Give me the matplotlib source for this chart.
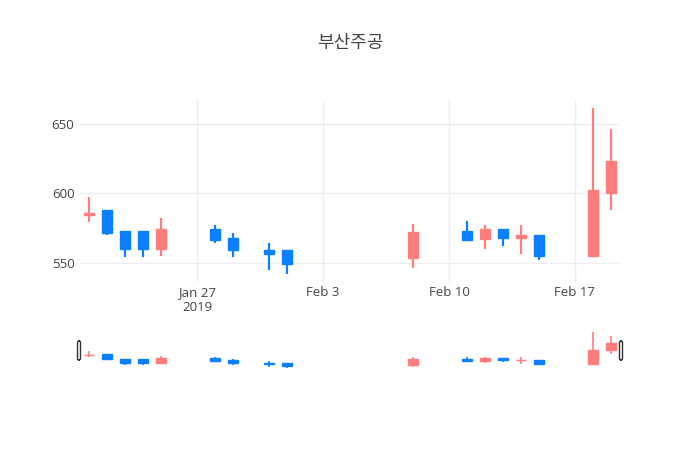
import matplotlib
matplotlib.use("Agg")
import matplotlib.pyplot as plt
import matplotlib.dates as mdates
from matplotlib.patches import FancyBboxPatch
import datetime as dt

plt.rcParams['font.family'] = ['Open Sans', 'Noto Sans CJK KR', 'DejaVu Sans']

title = "부산주공"
dates = ["2019-01-21", "2019-01-22", "2019-01-23", "2019-01-24", "2019-01-25",
         "2019-01-28", "2019-01-29", "2019-01-31", "2019-02-01", "2019-02-08",
         "2019-02-11", "2019-02-12", "2019-02-13", "2019-02-14", "2019-02-15",
         "2019-02-18", "2019-02-19"]
opens = [584, 588, 573, 573, 560, 574, 568, 559, 559, 553, 573, 567, 574, 568, 570, 555, 600]
highs = [597, 588, 573, 573, 582, 577, 571, 564, 559, 578, 580, 577, 574, 577, 570, 661, 646]
lows = [579, 570, 554, 554, 555, 564, 554, 545, 542, 546, 566, 560, 562, 556, 552, 554, 588]
closes = [586, 571, 560, 560, 574, 566, 559, 556, 549, 572, 566, 574, 568, 570, 555, 602, 623]

yticks = [550, 600, 650]
xtick_dates = ["2019-01-27", "2019-02-03", "2019-02-10", "2019-02-17"]
xtick_labels = ["Jan 27\n2019", "Feb 3", "Feb 10", "Feb 17"]

up_color = "#ff7d7d"
down_color = "#0a80ff"

x = [mdates.date2num(dt.datetime.strptime(d, "%Y-%m-%d")) for d in dates]
xt = [mdates.date2num(dt.datetime.strptime(d, "%Y-%m-%d")) for d in xtick_dates]

fig = plt.figure(figsize=(7, 4.5), dpi=100)
W, H = 700, 450
ax = fig.add_axes([80 / W, (H - 282) / H, 540 / W, 182 / H])
ax_s = fig.add_axes([80 / W, (H - 370) / H, 540 / W, 40 / H])

ymin = min(lows)
ymax = max(highs)
pad = (ymax - ymin) * 0.05
yr = (ymin - pad, ymax + pad)
xr = (x[0] - 0.5, x[-1] + 0.5)


def draw_candles(a, lw):
    for xi, o, h, l, c in zip(x, opens, highs, lows, closes):
        col = up_color if c >= o else down_color
        a.vlines(xi, l, h, color=col, lw=lw, zorder=3)
        lo, hi = min(o, c), max(o, c)
        a.bar(xi, max(hi - lo, 0.8), bottom=lo, width=0.58, color=col,
              edgecolor=col, linewidth=1.0, zorder=4)


draw_candles(ax, 1.6)
draw_candles(ax_s, 1.2)

for a in (ax, ax_s):
    a.set_xlim(*xr)
    a.set_ylim(*yr)
    for s in a.spines.values():
        s.set_visible(False)

ax.set_yticks(yticks)
ax.set_yticklabels([str(v) for v in yticks])
ax.set_xticks(xt)
ax.set_xticklabels(xtick_labels)
ax.tick_params(axis='both', length=0, colors="#444444", labelsize=9.5)
ax.tick_params(axis='x', pad=3)
ax.tick_params(axis='y', pad=4)
ax.grid(True, color="#eeeeee", lw=1, zorder=0)
ax.set_axisbelow(True)

ax_s.set_xticks([])
ax_s.set_yticks([])

# range slider handles
for hx in (77, 619):
    p = FancyBboxPatch(((hx + 0.5) / W, (H - 360) / H), 3 / W, 19 / H,
                       boxstyle="round,pad=0,rounding_size=0.003",
                       transform=fig.transFigure, facecolor="white",
                       edgecolor="#333333", lw=1, clip_on=False, zorder=10)
    fig.add_artist(p)

fig.text(350 / W, 1 - 43 / H, title, ha="center", va="center",
         fontsize=13, color="#444444")

fig.savefig("out.png", dpi=100)
